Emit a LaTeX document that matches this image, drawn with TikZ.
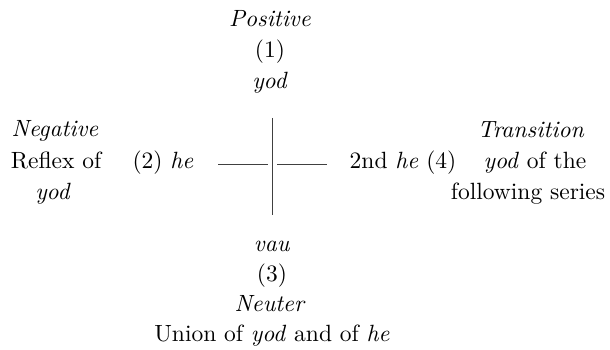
\documentclass[tikz,border=0pt]{standalone}
\usepackage{amsmath}
\usepackage{tikz}

\begin{document}
\begin{tikzpicture}[x=0.4255pt,y=-0.4255pt,lbl/.style={anchor=base,inner sep=0pt},bar/.style={line width=0.35pt,black!75}]
\useasboundingbox (0,0) rectangle (610,350);
% top
\node[lbl] (pos) at (270,27) {\textit{Positive}};
\node[lbl] (one) at (270,58) {(1)};
\node[lbl] (yodA) at (270,89) {\textit{yod}};
% left
\node[lbl] (neg) at (55,137) {\textit{Negative}};
\node[lbl] (refl) at (56,169) {Reflex of};
\node[lbl] (yodB) at (53,200) {\textit{yod}};
\node[lbl] (two) at (163,169) {(2) \textit{he}};
% right
\node[lbl] (four) at (403,169) {2nd \textit{he} (4)};
\node[lbl] (trans) at (531,138) {\textit{Transition}};
\node[lbl] (yodof) at (535,169) {\textit{yod} of the};
\node[lbl] (foll) at (528,200) {following series};
% bottom
\node[lbl] (vau) at (272,252) {\textit{vau}};
\node[lbl] (three) at (272,281) {(3)};
\node[lbl] (neut) at (270,311) {\textit{Neuter}};
\node[lbl] (union) at (272,341) {Union of \textit{yod} and of \textit{he}};
% cross
\coordinate (up) at (272,118);
\coordinate (dn) at (272,215);
\coordinate (lt) at (218,164);
\coordinate (lg) at (268,164);
\coordinate (rg) at (277,164);
\coordinate (rt) at (327,164);
\draw[bar] (up)--(dn);
\draw[bar] (lt)--(lg);
\draw[bar] (rg)--(rt);
\end{tikzpicture}
\end{document}
